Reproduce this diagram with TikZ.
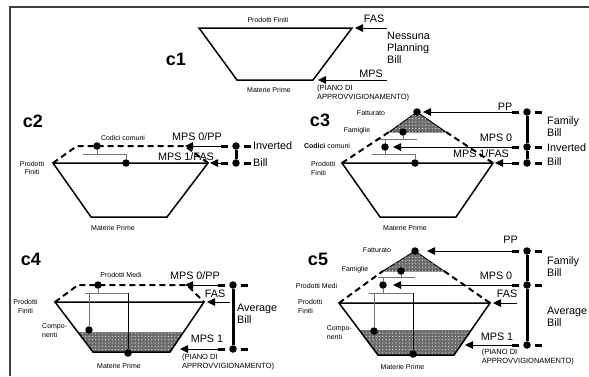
\documentclass[tikz,border=0pt]{standalone}
\usepackage{fontspec}
\setmainfont{Liberation Sans}
\usetikzlibrary{arrows.meta, patterns.meta, calc}

\begin{document}
\begin{tikzpicture}[
    x=1pt, y=-1pt,
    small/.style={font=\fontsize{7}{8.5}\selectfont, inner sep=0pt, align=center},
    note/.style={font=\fontsize{7.5}{9.3}\selectfont, inner sep=0pt, align=left, anchor=north west},
    big/.style={font=\fontsize{10.8}{12}\selectfont, inner sep=0pt, align=left},
    tag/.style={font=\bfseries\fontsize{18}{20}\selectfont, inner sep=0pt, anchor=base},
    outline/.style={line width=1.5pt, line join=miter},
    pt/.style={circle, fill, inner sep=0pt, minimum size=7.5pt},
    arr/.style={-{Triangle[length=8pt, width=7.5pt]}, line width=0.9pt},
    tree/.style={black!55, line width=0.9pt},
    dline/.style={dash pattern=on 6pt off 4pt, line width=2pt},
    level/.style={dash pattern=on 7pt off 16pt, line width=3pt},
    vbar/.style={line width=3pt},
    shade/.style={fill=gray!85!black, postaction={pattern={Dots[distance=3.3pt, radius=0.65pt]}, pattern color=gray!30}}
  ]
  \useasboundingbox (0,0) rectangle (589,376);

  % frame
  \coordinate (fbl) at (10,376);
  \coordinate (ftl) at (10,7);
  \coordinate (ftr) at (589,7);
  \draw[line width=1.6pt, black!75] (fbl) -- (ftl) -- (ftr);

  % ---------- c1 ----------
  \node[tag] (c1) at (176,65) {c1};
  \coordinate (p1a) at (199,28);
  \coordinate (p1b) at (352,28);
  \coordinate (p1c) at (313,80);
  \coordinate (p1d) at (237,80);
  \draw[outline] (p1a) -- (p1b) -- (p1c) -- (p1d) -- cycle;
  \node[small] (pf1) at (268,19.5) {Prodotti Finiti};
  \node[small] (mp1) at (269,89.5) {Materie Prime};
  \coordinate (s1a) at (387,28);
  \coordinate (t1a) at (355,28);
  \coordinate (s1b) at (387,80);
  \coordinate (t1b) at (318,80);
  \draw[arr] (s1a) -- (t1a);
  \draw[arr] (s1b) -- (t1b);
  \node[big] (fas1) at (374,19) {FAS};
  \node[big, anchor=west] (npb) at (387,47.3) {Nessuna\\Planning\\Bill};
  \node[big] (mps1) at (371,74) {MPS};
  \node[note] (pia1) at (317,84.5) {(PIANO DI\\APPROVVIGIONAMENTO)};

  % ---------- c2 ----------
  \node[tag] (c2) at (33,127) {c2};
  \coordinate (p2a) at (53,163);
  \coordinate (p2b) at (208,163);
  \coordinate (p2c) at (167,217);
  \coordinate (p2d) at (91,217);
  \coordinate (q2a) at (77,146);
  \coordinate (q2b) at (185,146);
  \draw[outline] (p2a) -- (p2b) -- (p2c) -- (p2d) -- cycle;
  \draw[dline] (p2a) -- (q2a) -- (q2b) -- (p2b);
  \node[pt] (d2a) at (97,146) {};
  \node[pt] (d2b) at (126,163) {};
  \coordinate (b2l) at (83,154);
  \coordinate (b2r) at (126,154);
  \draw[tree] (d2a) -- (d2a |- b2l);
  \draw[tree] (b2l) -- (b2r) -- (d2b);
  \node[pt] (k2a) at (236,146) {};
  \node[pt] (k2b) at (236,163) {};
  \draw[vbar] (k2a) -- (k2b);
  \draw[level] ([xshift=-15pt]k2a.center) -- ([xshift=15pt]k2a.center);
  \draw[level] ([xshift=-15pt]k2b.center) -- ([xshift=15pt]k2b.center);
  \coordinate (s2a) at (221,146);
  \coordinate (t2a) at (185,146);
  \coordinate (s2b) at (221,163);
  \coordinate (t2b) at (210,163);
  \draw[arr] (s2a) -- (t2a);
  \draw[arr] (s2b) -- (t2b);
  \node[small] (cc2) at (123,138) {Codici comuni};
  \node[big] (mps2a) at (197,137) {MPS 0/PP};
  \node[big] (mps2b) at (186,156.5) {MPS 1/FAS};
  \node[big, anchor=west] (inv2) at (253,146) {Inverted};
  \node[big, anchor=west] (bil2) at (253,162.5) {Bill};
  \node[small] (pf2) at (32,168) {Prodotti\\Finiti};
  \node[small] (mp2) at (113,227.5) {Materie Prime};

  % ---------- c3 ----------
  \node[tag] (c3) at (320,126) {c3};
  \coordinate (r3a) at (417,112);
  \coordinate (r3b) at (446,132);
  \coordinate (r3c) at (389,132);
  \draw[shade, line width=0.9pt] (r3a) -- (r3b) -- (r3c) -- cycle;
  \coordinate (p3a) at (342,163);
  \coordinate (p3b) at (493,163);
  \coordinate (p3c) at (456,217);
  \coordinate (p3d) at (380,217);
  \draw[outline] (p3a) -- (p3b) -- (p3c) -- (p3d) -- cycle;
  \draw[dline] (p3a) -- (r3c);
  \draw[dline] (r3b) -- (p3b);
  \node[pt] (d3a) at (417,112) {};
  \node[pt] (d3b) at (403,132) {};
  \node[pt] (d3c) at (385,147) {};
  \node[pt] (d3d) at (415,163) {};
  \coordinate (b3l) at (380,139);
  \coordinate (b3r) at (417,139);
  \coordinate (b3m) at (372,154);
  \coordinate (b3n) at (415,154);
  \draw[tree] (d3b) -- (d3b |- b3l);
  \draw[tree] (b3l) -- (b3r);
  \draw[tree] (d3c |- b3l) -- (d3c) -- (d3c |- b3m);
  \draw[tree] (b3m) -- (b3n) -- (d3d);
  \node[pt] (k3a) at (527,112) {};
  \node[pt] (k3b) at (527,147) {};
  \node[pt] (k3c) at (527,163) {};
  \draw[vbar] (k3a) -- (k3b) -- (k3c);
  \draw[level] ([xshift=-15pt]k3a.center) -- ([xshift=15pt]k3a.center);
  \draw[level] ([xshift=-15pt]k3b.center) -- ([xshift=15pt]k3b.center);
  \draw[level] ([xshift=-15pt]k3c.center) -- ([xshift=15pt]k3c.center);
  \coordinate (s3a) at (512,112);
  \coordinate (t3a) at (423,112);
  \coordinate (s3b) at (512,147);
  \coordinate (t3b) at (393,147);
  \coordinate (s3c) at (512,163);
  \coordinate (t3c) at (495,163);
  \draw[arr] (s3a) -- (t3a);
  \draw[arr] (s3b) -- (t3b);
  \draw[arr] (s3c) -- (t3c);
  \node[big] (pp3) at (505,106.5) {PP};
  \node[big] (mps3a) at (496,137.5) {MPS 0};
  \node[big] (mps3b) at (481,154) {MPS 1/FAS};
  \node[big, anchor=west] (fam3) at (547,127) {Family\\Bill};
  \node[big, anchor=west] (inv3) at (547,147.5) {Inverted};
  \node[big, anchor=west] (bil3) at (547,162) {Bill};
  \node[small] (fat3) at (371,113) {Fatturato};
  \node[small] (fmg3) at (357,130.5) {Famiglie};
  \node[small] (cc3) at (327,146) {\textbf{Codici} comuni};
  \node[small, align=left, anchor=west] (pf3) at (311,168.5) {Prodotti\\Finiti};
  \node[small] (mp3) at (405,227.5) {Materie Prime};

  % ---------- c4 ----------
  \node[tag] (c4) at (31,265) {c4};
  \coordinate (p4a) at (55,302);
  \coordinate (p4b) at (204,302);
  \coordinate (p4c) at (170,352);
  \coordinate (p4d) at (93,352);
  \fill[shade] ($(p4a)!0.6!(p4d)$) -- ($(p4b)!0.6!(p4c)$) -- (p4c) -- (p4d) -- cycle;
  \draw[outline] (p4a) -- (p4b) -- (p4c) -- (p4d) -- cycle;
  \coordinate (q4a) at (78,285);
  \coordinate (q4b) at (187,285);
  \draw[dline] (p4a) -- (q4a) -- (q4b) -- (p4b);
  \node[pt] (d4a) at (98,285) {};
  \node[pt] (d4b) at (89,330) {};
  \node[pt] (d4c) at (128,353) {};
  \coordinate (b4l) at (85,293);
  \coordinate (b4r) at (128,293);
  \draw[tree] (d4a) -- (d4a |- b4l);
  \draw[tree] (b4l) -- (b4r);
  \draw[tree] (d4b |- b4l) -- (d4b);
  \draw[line width=0.9pt] (b4r) -- (d4c);
  \node[pt] (k4a) at (233,285) {};
  \node[pt] (k4b) at (233,349) {};
  \draw[vbar] (k4a) -- (k4b);
  \draw[level] ([xshift=-15pt]k4a.center) -- ([xshift=15pt]k4a.center);
  \draw[level] ([xshift=-15pt]k4b.center) -- ([xshift=15pt]k4b.center);
  \coordinate (s4a) at (218,285);
  \coordinate (t4a) at (185,285);
  \coordinate (s4b) at (230,302);
  \coordinate (t4b) at (207,302);
  \coordinate (s4c) at (218,349);
  \coordinate (t4c) at (180,349);
  \draw[arr] (s4a) -- (t4a);
  \draw[arr] (s4b) -- (t4b);
  \draw[arr] (s4c) -- (t4c);
  \node[big] (mps4a) at (195,275.5) {MPS 0/PP};
  \node[big] (fas4) at (215,293.5) {FAS};
  \node[big] (mps4b) at (207,339) {MPS 1};
  \node[note] (pia4) at (182,353.5) {(PIANO DI\\APPROVVIGIONAMENTO)};
  \node[big, anchor=west] (avg4) at (237,313.5) {Average\\Bill};
  \node[small] (pm4) at (121,275) {Prodotti Medi};
  \node[small] (pf4) at (25.5,306.5) {Prodotti\\Finiti};
  \node[small, align=left, anchor=west] (cmp4) at (42,330.5) {Compo-\\nenti};
  \node[small] (mp4) at (119,365.5) {Materie Prime};

  % ---------- c5 ----------
  \node[tag] (c5) at (318,265) {c5};
  \coordinate (r5a) at (415,251);
  \coordinate (r5b) at (444,271);
  \coordinate (r5c) at (383,271);
  \draw[shade, line width=0.9pt] (r5a) -- (r5b) -- (r5c) -- cycle;
  \coordinate (p5a) at (339,303);
  \coordinate (p5b) at (490,303);
  \coordinate (p5c) at (454,355);
  \coordinate (p5d) at (378,355);
  \fill[shade] ($(p5a)!0.52!(p5d)$) -- ($(p5b)!0.52!(p5c)$) -- (p5c) -- (p5d) -- cycle;
  \draw[outline] (p5a) -- (p5b) -- (p5c) -- (p5d) -- cycle;
  \draw[dline] (p5a) -- (r5c);
  \draw[dline] (r5b) -- (p5b);
  \node[pt] (d5a) at (415,251) {};
  \node[pt] (d5b) at (401,271) {};
  \node[pt] (d5c) at (383,285) {};
  \node[pt] (d5d) at (374,331) {};
  \node[pt] (d5e) at (413,354) {};
  \coordinate (b5l) at (378,277);
  \coordinate (b5r) at (415,277);
  \coordinate (b5m) at (369,293);
  \coordinate (b5n) at (413,293);
  \draw[tree] (d5b) -- (d5b |- b5l);
  \draw[tree] (b5l) -- (b5r);
  \draw[tree] (d5c |- b5l) -- (d5c) -- (d5c |- b5m);
  \draw[tree] (b5m) -- (b5n);
  \draw[tree] (d5d |- b5m) -- (d5d);
  \draw[line width=0.9pt] (b5n) -- (d5e);
  \node[pt] (k5a) at (527,251) {};
  \node[pt] (k5b) at (527,285) {};
  \node[pt] (k5c) at (527,345) {};
  \draw[vbar] (k5a) -- (k5b) -- (k5c);
  \draw[level] ([xshift=-15pt]k5a.center) -- ([xshift=15pt]k5a.center);
  \draw[level] ([xshift=-15pt]k5b.center) -- ([xshift=15pt]k5b.center);
  \draw[level] ([xshift=-15pt]k5c.center) -- ([xshift=15pt]k5c.center);
  \coordinate (s5a) at (512,251);
  \coordinate (t5a) at (427,251);
  \coordinate (s5b) at (512,285);
  \coordinate (t5b) at (393,285);
  \coordinate (s5c) at (517,303);
  \coordinate (t5c) at (493,303);
  \coordinate (s5d) at (512,345);
  \coordinate (t5d) at (465,345);
  \draw[arr] (s5a) -- (t5a);
  \draw[arr] (s5b) -- (t5b);
  \draw[arr] (s5c) -- (t5c);
  \draw[arr] (s5d) -- (t5d);
  \node[big] (pp5) at (510.5,240) {PP};
  \node[big] (mps5a) at (496,276) {MPS 0};
  \node[big] (fas5) at (507,293.5) {FAS};
  \node[big] (mps5b) at (497,336.5) {MPS 1};
  \node[note] (pia5) at (481.7,348.5) {(PIANO DI\\APPROVVIGIONAMENTO)};
  \node[big, anchor=west] (fam5) at (547,267) {Family\\Bill};
  \node[big, anchor=west] (avg5) at (547,316.5) {Average\\Bill};
  \node[small] (fat5) at (377,250) {Fatturato};
  \node[small] (fmg5) at (355,269.5) {Famiglie};
  \node[small] (pm5) at (316.5,285.5) {Prodotti Medi};
  \node[small, align=left, anchor=west] (pf5) at (298,306.5) {Prodotti\\Finiti};
  \node[small, align=left, anchor=west] (cmp5) at (326.7,332.5) {Compo-\\nenti};
  \node[small] (mp5) at (402.5,366.5) {Materie Prime};
\end{tikzpicture}
\end{document}
